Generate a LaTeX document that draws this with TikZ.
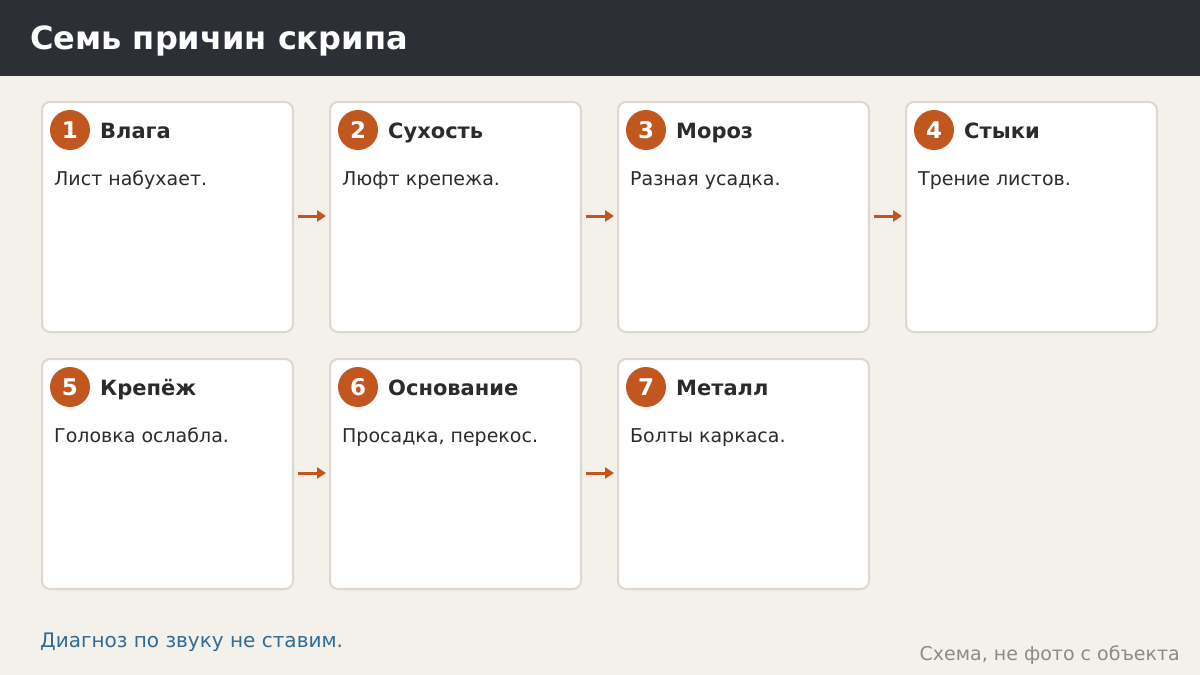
\documentclass[tikz,border=0pt]{standalone}
\usepackage{fontspec}
\setmainfont{DejaVu Sans}
\usetikzlibrary{arrows.meta}
\definecolor{bg}{HTML}{F4F1EA}
\definecolor{hdr}{HTML}{2C2F35}
\definecolor{brd}{HTML}{DDD8CF}
\definecolor{org}{HTML}{C1561F}
\definecolor{ink}{HTML}{2B2B2E}
\definecolor{blu}{HTML}{2F6B97}
\definecolor{gry}{HTML}{8C8A87}
\tikzset{
  card/.style={draw=brd, line width=2pt, fill=white, rounded corners=8pt, minimum width=251pt, minimum height=230pt, inner sep=0pt, anchor=north west},
  num/.style={circle, fill=org, minimum size=40pt, inner sep=0pt, text=white, font=\fontsize{23}{27}\selectfont\bfseries},
  ttl/.style={anchor=base west, inner sep=0pt, text=ink, font=\fontsize{21}{25}\selectfont\bfseries},
  dsc/.style={anchor=base west, inner sep=0pt, text=ink, font=\fontsize{19}{23}\selectfont},
  arr/.style={draw=org, line width=3pt, -{Triangle[length=9pt,width=11pt]}, shorten <=4pt, shorten >=3pt}
}
\newcommand{\mkcard}[6]{%
  \node[card] (c#1) at (#2,#3) {};
  \node[num] (n#1) at (#2+29,#3+29) {#4};
  \node[ttl] (t#1) at (#2+59,#3+37) {#5};
  \node[dsc] (d#1) at (#2+13,#3+84) {#6};
}
\begin{document}
\begin{tikzpicture}[x=1pt,y=-1pt]
\useasboundingbox (0,0) rectangle (1200,675);
\fill[bg] (0,0) rectangle (1200,675);
\fill[hdr] (0,0) rectangle (1200,76);
\node[anchor=base west, inner sep=0pt, text=white, font=\fontsize{32}{38}\selectfont\bfseries] (title) at (30,49) {Семь причин скрипа};
\mkcard{1}{41}{101}{1}{Влага}{Лист набухает.}
\mkcard{2}{329}{101}{2}{Сухость}{Люфт крепежа.}
\mkcard{3}{617}{101}{3}{Мороз}{Разная усадка.}
\mkcard{4}{905}{101}{4}{Стыки}{Трение листов.}
\mkcard{5}{41}{358}{5}{Крепёж}{Головка ослабла.}
\mkcard{6}{329}{358}{6}{Основание}{Просадка, перекос.}
\mkcard{7}{617}{358}{7}{Металл}{Болты каркаса.}
\draw[arr] ([yshift=1pt]c1.east) -- ([yshift=1pt]c2.west);
\draw[arr] ([yshift=1pt]c2.east) -- ([yshift=1pt]c3.west);
\draw[arr] ([yshift=1pt]c3.east) -- ([yshift=1pt]c4.west);
\draw[arr] ([yshift=1pt]c5.east) -- ([yshift=1pt]c6.west);
\draw[arr] ([yshift=1pt]c6.east) -- ([yshift=1pt]c7.west);
\node[anchor=base west, inner sep=0pt, text=blu, font=\fontsize{20}{24}\selectfont] (note) at (40,647) {Диагноз по звуку не ставим.};
\node[anchor=base east, inner sep=0pt, text=gry, font=\fontsize{19}{23}\selectfont] (src) at (1180,660) {Схема, не фото с объекта};
\end{tikzpicture}
\end{document}
